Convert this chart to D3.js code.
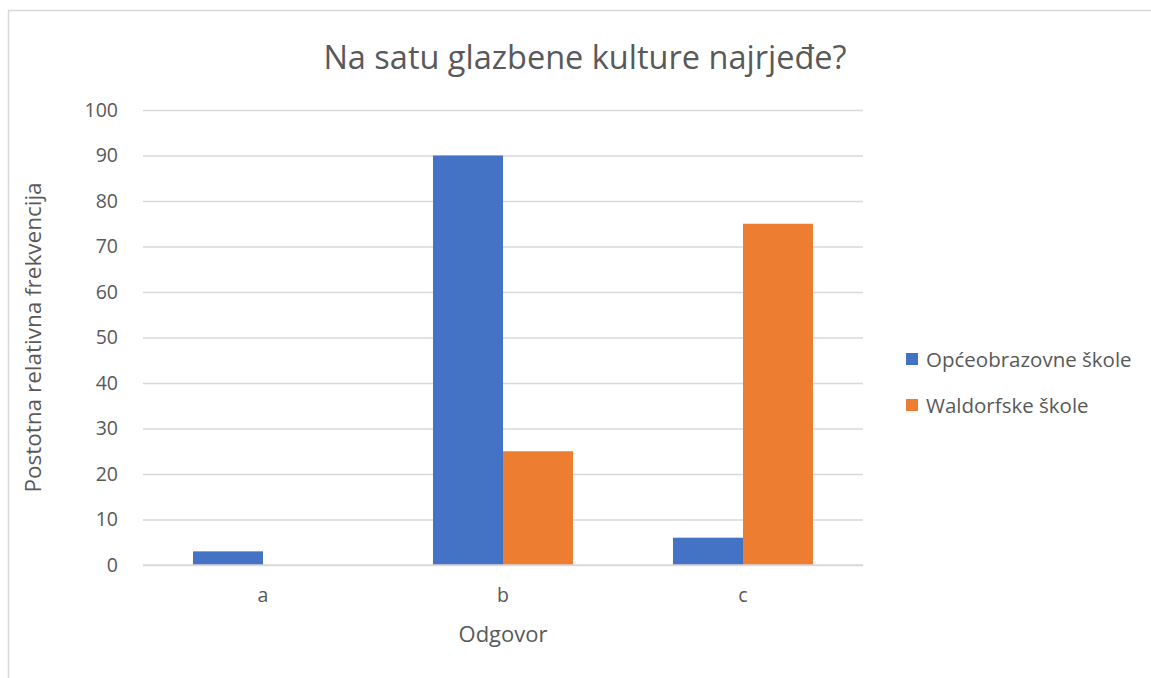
<!DOCTYPE html>
<html>
<head>
<meta charset="utf-8">
<script src="https://cdn.jsdelivr.net/npm/d3@7"></script>
<style>
  body { margin: 0; background: #fff; }
  text { font-family: "Open Sans", "Noto Sans", sans-serif; fill: #595959; }
</style>
</head>
<body>
<div id="chart"></div>
<script>
// chart data
var categories = ["a", "b", "c"];
var seriesNames = ["Općeobrazovne škole", "Waldorfske škole"];
var opceobrazovne = [3, 90, 6];
var waldorfske = [0, 25, 75];
var yTicks = [0, 10, 20, 30, 40, 50, 60, 70, 80, 90, 100];
var colors = ["#4472C4", "#ED7D31"];

var W = 1151, H = 678;
var margin = { top: 110, right: 288, bottom: 113, left: 143 },
  width = W - margin.left - margin.right,
  height = H - margin.top - margin.bottom;

var svg = d3.select("#chart")
  .append("svg")
  .attr("width", W)
  .attr("height", H);

// outer border (left + top only visible)
svg.append("path")
  .attr("d", "M8.5," + H + " V10.5 H" + W)
  .attr("fill", "none")
  .attr("stroke", "#D9D9D9")
  .attr("stroke-width", 1.5);

var g = svg.append("g")
  .attr("transform", "translate(" + margin.left + "," + margin.top + ")");

var x = d3.scaleBand().domain(categories).range([0, width]);
var x1 = d3.scaleBand().domain([0, 1]).range([x.bandwidth() * 0.2083, x.bandwidth() * 0.7917]);
var y = d3.scaleLinear().domain([0, 100]).range([height, 0]);

// gridlines
g.append("g")
  .call(d3.axisLeft(y).tickValues(yTicks).tickSize(-width).tickFormat(""))
  .call(function(a) { a.select(".domain").remove(); })
  .selectAll("line")
  .attr("stroke", "#D9D9D9")
  .attr("stroke-width", 1.3);

// y tick labels
g.append("g")
  .call(d3.axisLeft(y).tickValues(yTicks).tickSize(0).tickPadding(25))
  .call(function(a) { a.select(".domain").remove(); })
  .selectAll("text")
  .style("font-size", "19.5px")
  .attr("fill", "#595959");

// bars
var data = categories.map(function(c, i) {
  return { cat: c, values: [opceobrazovne[i], waldorfske[i]] };
});

g.selectAll(".grp")
  .data(data)
  .enter()
  .append("g")
  .attr("transform", function(d) { return "translate(" + x(d.cat) + ",0)"; })
  .selectAll("rect")
  .data(function(d) { return d.values; })
  .enter()
  .append("rect")
  .attr("x", function(d, i) { return x1(i); })
  .attr("width", x1.bandwidth())
  .attr("y", function(d) { return y(d); })
  .attr("height", function(d) { return height - y(d); })
  .attr("fill", function(d, i) { return colors[i]; });

// x axis baseline + labels
g.append("line")
  .attr("x1", 0).attr("x2", width)
  .attr("y1", height).attr("y2", height)
  .attr("stroke", "#D9D9D9")
  .attr("stroke-width", 1.3);

g.append("g")
  .attr("transform", "translate(0," + height + ")")
  .call(d3.axisBottom(x).tickSize(0).tickPadding(23))
  .call(function(a) { a.select(".domain").remove(); })
  .selectAll("text")
  .style("font-size", "19.5px")
  .attr("fill", "#595959");

// title
svg.append("text")
  .attr("x", 585)
  .attr("y", 69)
  .attr("text-anchor", "middle")
  .style("font-size", "32.5px")
  .text("Na satu glazbene kulture najrjeđe?");

// axis titles
svg.append("text")
  .attr("x", margin.left + width / 2)
  .attr("y", 642)
  .attr("text-anchor", "middle")
  .style("font-size", "22px")
  .text("Odgovor");

svg.append("text")
  .attr("transform", "translate(41," + (margin.top + height / 2) + ") rotate(-90)")
  .attr("text-anchor", "middle")
  .style("font-size", "22.5px")
  .text("Postotna relativna frekvencija");

// legend
var legend = svg.append("g")
  .attr("transform", "translate(906,353)");

var item = legend.selectAll(".item")
  .data(seriesNames)
  .enter()
  .append("g")
  .attr("transform", function(d, i) { return "translate(0," + i * 46 + ")"; });

item.append("rect")
  .attr("width", 12)
  .attr("height", 12)
  .attr("fill", function(d, i) { return colors[i]; });

item.append("text")
  .attr("x", 20)
  .attr("y", 14)
  .style("font-size", "20.5px")
  .text(function(d) { return d; });
</script>
</body>
</html>
